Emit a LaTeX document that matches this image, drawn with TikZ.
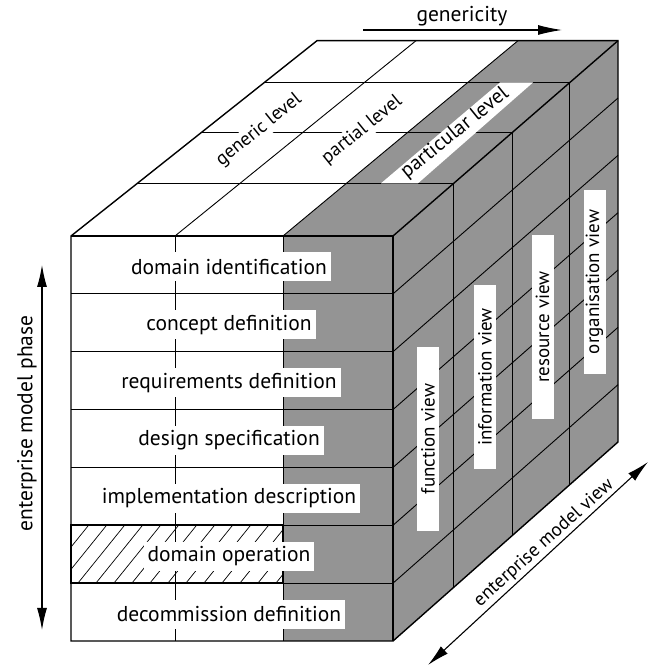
\documentclass[tikz,border=0pt]{standalone}
\usepackage{fontspec}
\setmainfont{PT Sans}
\usepackage{tikz}
\usetikzlibrary{arrows.meta,calc}

\newcommand{\labelfont}{\fontsize{19}{22}\selectfont}
\newcommand{\phasefont}{\fontsize{21.5}{25}\selectfont}
\definecolor{viewgray}{gray}{0.58}

\begin{document}
\begin{tikzpicture}[x=1pt,y=1pt,
    grid/.style={line width=0.9pt},
    edge/.style={line width=1.4pt},
    phase/.style={fill=white,font=\phasefont,inner xsep=4pt,inner ysep=0pt,minimum height=29pt},
    level/.style={font=\labelfont,inner sep=2pt,rotate=39},
    viewbox/.style={fill=white,font=\labelfont,rotate=90,inner sep=0pt,minimum width=184pt,minimum height=22pt},
    axis/.style={line width=1.1pt,{Latex[length=22pt,width=10pt]}-{Latex[length=22pt,width=10pt]}}]
    \useasboundingbox (0,0) rectangle (651,668);

    % Cube points: column, row, depth
    \foreach \di/\yt/\fr in {0/432/0, 1/484.7/0.27, 2/535.7/0.531, 3/585.5/0.786, 4/627.3/1}
        \foreach \ci/\xf/\xb in {0/71/317, 1/175/416, 2/283/518, 3/393/618}
            \foreach \ri in {0,...,7}
                \coordinate (p\ci\ri\di) at ({\xf+\fr*(\xb-\xf)},{\yt-\ri*(57.86-0.53*\fr)});

    % Faces
    \fill[white] (p000) rectangle (p270);
    \fill[viewgray] (p200) rectangle (p370);
    \fill[white] (p000) -- (p200) -- (p201) -- (p202) -- (p203) -- (p204) -- (p004) -- cycle;
    \fill[viewgray] (p200) -- (p300) -- (p301) -- (p302) -- (p303) -- (p304)
        -- (p204) -- (p203) -- (p202) -- (p201) -- cycle;
    \fill[viewgray] (p300) -- (p301) -- (p302) -- (p303) -- (p304)
        -- (p374) -- (p373) -- (p372) -- (p371) -- (p370) -- cycle;

    % Current phase (hatched)
    \begin{scope}
        \clip (p050) rectangle (p260);
        \foreach \x in {20,38,...,290}
            \draw[line width=0.7pt] (\x,80) -- ++(50,62);
    \end{scope}

    % Grid lines
    \foreach \ri in {1,...,6} {
        \draw[grid] (p0\ri0) -- (p3\ri0);
        \draw[grid] (p3\ri0) -- (p3\ri1) -- (p3\ri2) -- (p3\ri3) -- (p3\ri4);
    }
    \foreach \ci in {1,2} {
        \draw[grid] (p\ci00) -- (p\ci70);
        \draw[grid] (p\ci00) -- (p\ci01) -- (p\ci02) -- (p\ci03) -- (p\ci04);
    }
    \foreach \di in {1,2,3} {
        \draw[grid] (p00\di) -- (p30\di);
        \draw[grid] (p30\di) -- (p37\di);
    }

    % Outline
    \draw[edge] (p000) -- (p070) -- (p370) -- (p371) -- (p372) -- (p373) -- (p374)
        -- (p304) -- (p004) -- (p003) -- (p002) -- (p001) -- cycle;
    \draw[edge] (p000) -- (p300) -- (p370);
    \draw[edge] (p300) -- (p301) -- (p302) -- (p303) -- (p304);
    \draw[line width=2.4pt] (p050) rectangle (p260);

    % Particular level strip
    \fill[white] (381,484.7) -- (418,484.7) -- (533,585.5) -- (500,585.5) -- cycle;

    % Phase labels
    \foreach \ri/\txt in {0/domain identification, 1/concept definition,
            2/requirements definition, 3/design specification,
            4/implementation description, 5/domain operation,
            6/decommission definition}
        \node[phase] (ph\ri) at (229,{401-\ri*57.86}) {\txt};

    % Level labels
    \node[level,fill=white] (lv-gen) at (259,538) {generic level};
    \node[level,fill=white] (lv-par) at (362,538) {partial level};
    \node[level,font=\fontsize{20.5}{24}\selectfont] (lv-pcl) at (455,535) {particular level};

    % View labels
    \node[viewbox] (vw-fun) at (428,229) {function view};
    \node[viewbox] (vw-inf) at (485,291) {information view};
    \node[viewbox] (vw-res) at (542.5,341) {resource view};
    \node[viewbox] (vw-org) at (594.5,386) {organisation view};

    % Axes
    \coordinate (gen-a) at (363,638);
    \coordinate (gen-b) at (562,638);
    \draw[line width=1.1pt,-{Latex[length=24pt,width=10pt]}] (gen-a) -- (gen-b);
    \node[font=\phasefont] (gen) at (462,652) {genericity};

    \coordinate (ph-a) at (42,403);
    \coordinate (ph-b) at (42,38);
    \draw[axis] (ph-a) -- (ph-b);
    \node[font=\phasefont,rotate=90] (phase) at (27,244.5) {enterprise model phase};

    \coordinate (vw-a) at (428,3);
    \coordinate (vw-b) at (648,206);
    \draw[axis] (vw-a) -- (vw-b);
    \node[font=\labelfont,rotate=42] (view) at (544,125) {enterprise model view};
\end{tikzpicture}
\end{document}
